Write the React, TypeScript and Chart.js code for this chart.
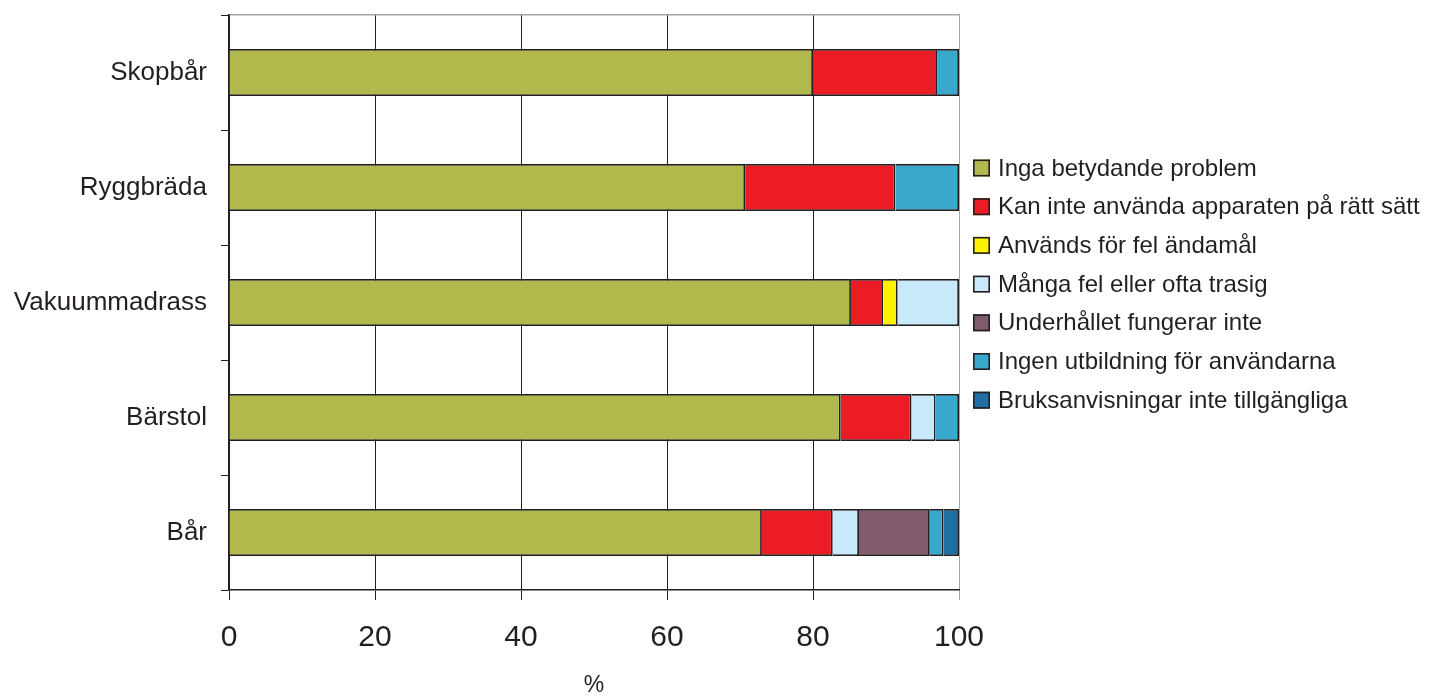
import React, { useEffect, useRef } from "react";
import { Chart, registerables } from "chart.js";

Chart.register(...registerables);

const categories = ["Skopbår", "Ryggbräda", "Vakuummadrass", "Bärstol", "Bår"];
const seriesNames = [
  "Inga betydande problem",
  "Kan inte använda apparaten på rätt sätt",
  "Används för fel ändamål",
  "Många fel eller ofta trasig",
  "Underhållet fungerar inte",
  "Ingen utbildning för användarna",
  "Bruksanvisningar inte tillgängliga",
];
const ingaProblem = [80, 70.7, 85.2, 83.8, 73.0];
const kanInteAnvanda = [17, 20.6, 4.4, 9.7, 9.7];
const felAndamal = [null, null, 2.0, null, null];
const mangaFel = [null, null, 8.4, 3.3, 3.6];
const underhall = [null, null, null, null, 9.7];
const ingenUtbildning = [3, 8.7, null, 3.2, 1.9];
const bruksanvisningar = [null, null, null, null, 2.1];
const xTicks = [0, 20, 40, 60, 80, 100];

const colors = ["#b1b94c", "#ec1c24", "#fff200", "#c7e9f9", "#7f5b6d", "#39a8cd", "#1f6ea4"];
const DARK = "#231f20";
const FONT = "'Liberation Sans', Arial, Helvetica, sans-serif";

const legendPlugin = {
  id: "customLegend",
  afterDraw(chart: any) {
    const { ctx, chartArea } = chart;
    const x0 = chartArea.right + 14;
    const y0 = chartArea.top + 153;
    const step = 38.7;
    const box = 17;
    ctx.save();
    ctx.font = `24px ${FONT}`;
    ctx.textBaseline = "middle";
    ctx.textAlign = "left";
    chart.data.datasets.forEach((ds: any, i: number) => {
      const cy = y0 + i * step;
      ctx.fillStyle = ds.backgroundColor;
      ctx.fillRect(x0, cy - box / 2, box, box);
      ctx.lineWidth = 1.6;
      ctx.strokeStyle = DARK;
      ctx.strokeRect(x0 + 0.8, cy - box / 2 + 0.8, box - 1.6, box - 1.6);
      ctx.fillStyle = DARK;
      ctx.fillText(ds.label, x0 + 25, cy + 1);
    });
    ctx.restore();
  },
};

export default function App() {
  const ref = useRef<HTMLCanvasElement>(null);
  useEffect(() => {
    const seriesData = [ingaProblem, kanInteAnvanda, felAndamal, mangaFel, underhall, ingenUtbildning, bruksanvisningar];
    const chart = new Chart(ref.current!, {
      type: "bar",
      data: {
        labels: categories,
        datasets: seriesData.map((d, i) => ({
          label: seriesNames[i],
          data: d as any,
          backgroundColor: colors[i],
          borderColor: DARK,
          borderWidth: 1.8,
          barPercentage: 0.41,
          categoryPercentage: 1,
        })),
      },
      options: {
        indexAxis: "y",
        responsive: false,
        animation: false,
        layout: { padding: { left: 11, top: 0, right: 486, bottom: 0 } },
        plugins: {
          legend: { display: false },
          tooltip: { enabled: false },
        },
        scales: {
          x: {
            stacked: true,
            min: 0,
            max: 100,
            afterBuildTicks: (s: any) => {
              s.ticks = xTicks.map((v) => ({ value: v }));
            },
            afterFit: (s: any) => {
              s.height = 107;
            },
            ticks: {
              font: { size: 30, family: FONT },
              color: DARK,
              padding: 20,
            },
            grid: {
              color: (c: any) => (c.tick && c.tick.value === 100 ? "#a6a6a6" : DARK),
              lineWidth: 1,
              tickLength: 10,
              drawTicks: true,
            },
            border: { display: true, color: DARK, width: 1.5 },
            title: {
              display: true,
              text: "%",
              font: { size: 23, family: FONT, lineHeight: 1 },
              color: DARK,
              padding: { top: 0, bottom: 0 },
            },
          },
          x2: {
            position: "top",
            min: 0,
            max: 100,
            ticks: { display: false },
            grid: { display: false, drawTicks: false },
            border: { display: true, color: "#a6a6a6", width: 1.5 },
            afterFit: (s: any) => {
              s.height = 0;
            },
          },
          y: {
            stacked: true,
            ticks: {
              font: { size: 26, family: FONT },
              color: DARK,
              padding: 14,
            },
            grid: {
              offset: true,
              drawOnChartArea: false,
              drawTicks: true,
              tickLength: 8,
              color: DARK,
            },
            border: { display: true, color: DARK, width: 1.5 },
            afterFit: (s: any) => {
              s.width = 218;
              s.paddingTop = 15;
              s.paddingBottom = 0;
            },
          },
        },
      },
      plugins: [legendPlugin],
    });
    return () => chart.destroy();
  }, []);
  return (
    <div style={{ position: "absolute", left: 0, top: 0, width: 1445, height: 697, background: "#fff" }}>
      <canvas ref={ref} width={1445} height={697} />
    </div>
  );
}
